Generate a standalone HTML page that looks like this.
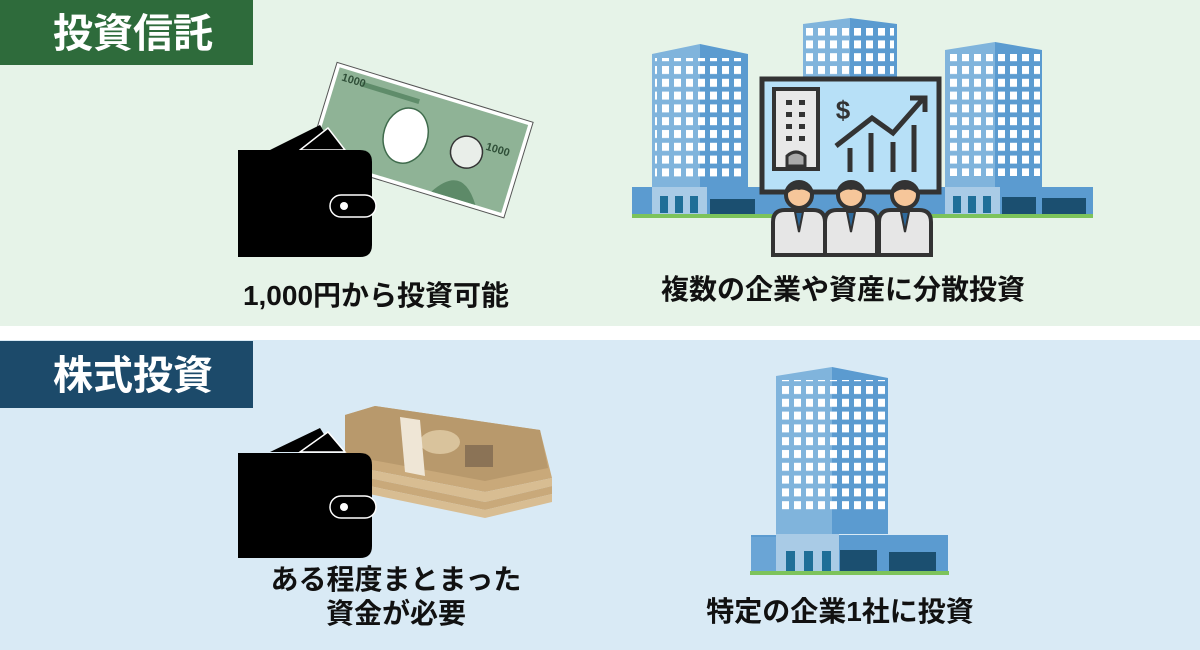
<!DOCTYPE html>
<html><head><meta charset="utf-8"><style>
html,body{margin:0;padding:0;width:1200px;height:650px;overflow:hidden;background:#fff}
svg{display:block}
text{font-family:"Liberation Sans","Noto Sans CJK JP",sans-serif;font-weight:bold}
</style></head><body>
<svg width="1200" height="650" viewBox="0 0 1200 650" xmlns="http://www.w3.org/2000/svg">
<defs>
<pattern id="win" x="0" y="0" width="12" height="12.8" patternUnits="userSpaceOnUse">
<rect x="2" y="2" width="7" height="8" fill="#fff"/>
</pattern>
</defs>
<rect x="0" y="0" width="1200" height="326" fill="#e6f3e8"/>
<rect x="0" y="340" width="1200" height="310" fill="#d9eaf5"/>
<rect x="0" y="0" width="253" height="65" fill="#2e6b3b"/>
<text x="133" y="47" font-size="40" fill="#fff" text-anchor="middle">投資信託</text>
<rect x="0" y="341" width="253" height="67" fill="#1c4a6a"/>
<text x="133" y="389" font-size="40" fill="#fff" text-anchor="middle">株式投資</text>

<!-- TOP: banknote -->
<g transform="rotate(17 420 140)">
<rect x="318" y="90" width="205" height="100" fill="#fff" stroke="#555" stroke-width="1"/>
<rect x="322" y="94" width="197" height="92" fill="#8fb396"/>
<rect x="348" y="101" width="60" height="5" fill="#5f8c6a"/>
<ellipse cx="405" cy="140" rx="22" ry="28" fill="#fff" stroke="#3f6b4c" stroke-width="1.5"/>
<circle cx="468" cy="138" r="16" fill="#e9eee9" stroke="#333" stroke-width="1.5"/>
<path d="M446 186 Q468 150 492 186Z" fill="#5d8a68"/>
<text x="327" y="106" font-size="11" fill="#2f4f38" font-weight="normal">1000</text>
<text x="485" y="130" font-size="11" fill="#2f4f38" font-weight="normal">1000</text>
</g>
<!-- wallet top -->
<path d="M270 150 L320 125 L335 150Z" fill="#000"/>
<path d="M300 150 L328 128 L345 150Z" fill="#000" stroke="#fff" stroke-width="1.5"/>
<path d="M238 150 H360 Q372 150 372 162 V245 Q372 257 360 257 H238Z" fill="#000"/>
<rect x="330" y="195" width="46" height="22" rx="11" fill="#000" stroke="#fff" stroke-width="1.5"/>
<circle cx="344" cy="206" r="4" fill="#fff"/>
<text x="376" y="305" font-size="28" fill="#111" text-anchor="middle">1,000円から投資可能</text>

<!-- TOP: buildings -->
<g>
<rect x="632" y="187" width="461" height="28" fill="#5b9bd0"/>
<rect x="652" y="187" width="55" height="28" fill="#a9cbe6"/>
<rect x="660" y="196" width="8" height="17" fill="#1f6f98"/><rect x="675" y="196" width="8" height="17" fill="#1f6f98"/><rect x="690" y="196" width="8" height="17" fill="#1f6f98"/>
<rect x="710" y="199" width="45" height="16" fill="#1b4f70"/>
<rect x="945" y="187" width="55" height="28" fill="#a9cbe6"/>
<rect x="953" y="196" width="8" height="17" fill="#1f6f98"/><rect x="968" y="196" width="8" height="17" fill="#1f6f98"/><rect x="983" y="196" width="8" height="17" fill="#1f6f98"/>
<rect x="1002" y="197" width="34" height="18" fill="#1b4f70"/><rect x="1042" y="198" width="44" height="17" fill="#1b4f70"/>
<rect x="632" y="214" width="461" height="4" fill="#7dc35b"/>
<polygon points="652,54 700,44 700,187 652,187" fill="#80b4dc"/>
<polygon points="700,44 748,54 748,187 700,187" fill="#5b9bd0"/>
<rect x="655" y="58" width="90" height="122" fill="url(#win)"/>
<polygon points="803,24 850,18 850,90 803,90" fill="#80b4dc"/>
<polygon points="850,18 897,24 897,90 850,90" fill="#5b9bd0"/>
<rect x="806" y="28" width="88" height="52" fill="url(#win)"/>
<polygon points="945,50 995,42 995,187 945,187" fill="#80b4dc"/>
<polygon points="995,42 1042,50 1042,187 995,187" fill="#5b9bd0"/>
<rect x="948" y="54" width="92" height="122" fill="url(#win)"/>
<rect x="762" y="79" width="177" height="113" fill="#b7e0f7" stroke="#333" stroke-width="5"/>
<rect x="774" y="89" width="44" height="80" fill="#e8e8e8" stroke="#333" stroke-width="4"/>
<g fill="#333"><rect x="786" y="100" width="6" height="5"/><rect x="799" y="100" width="6" height="5"/><rect x="786" y="112" width="6" height="5"/><rect x="799" y="112" width="6" height="5"/><rect x="786" y="124" width="6" height="5"/><rect x="799" y="124" width="6" height="5"/><rect x="786" y="136" width="6" height="5"/><rect x="799" y="136" width="6" height="5"/></g>
<path d="M787 166 V156 Q796 148 805 156 V166Z" fill="#aaa" stroke="#333" stroke-width="3"/>
<text x="843" y="119" font-size="26" fill="#333" text-anchor="middle">$</text>
<polyline points="836,146 872,118 893,133 922,100" fill="none" stroke="#333" stroke-width="5"/>
<polyline points="910,98 925,98 925,112" fill="none" stroke="#333" stroke-width="5"/>
<g stroke="#333" stroke-width="5"><line x1="850" y1="148" x2="850" y2="172"/><line x1="871" y1="133" x2="871" y2="172"/><line x1="893" y1="142" x2="893" y2="172"/><line x1="914" y1="125" x2="914" y2="172"/></g>
<g id="p">
<path d="M773 255 V222 Q773 210 785 210 H813 Q825 210 825 222 V255Z" fill="#e6e6e6" stroke="#333" stroke-width="4"/>
<path d="M795 212 L799 232 L803 212Z" fill="#2e6a9c" stroke="#333" stroke-width="2"/>
<circle cx="799" cy="195" r="13" fill="#f6c69a" stroke="#333" stroke-width="4"/>
<path d="M786 195 Q786 181 799 181 Q812 181 812 195 Q805 188 799 190 Q793 188 786 195Z" fill="#333"/>
</g>
<use href="#p" x="52"/><use href="#p" x="106"/>
</g>
<text x="843" y="299" font-size="28" fill="#111" text-anchor="middle">複数の企業や資産に分散投資</text>

<!-- BOTTOM: money stack -->
<g>
<polygon points="345,415 375,406 540,430 552,478 485,492 345,465" fill="#c9a97a"/>
<polygon points="345,465 485,492 552,478 552,486 485,502 345,473" fill="#d8bd92"/>
<polygon points="345,473 485,502 552,486 552,494 485,510 345,481" fill="#c9a97a"/>
<polygon points="345,481 485,510 552,494 552,502 485,518 345,489" fill="#d8bd92"/>
<polygon points="345,415 375,406 540,430 548,468 485,481 345,455" fill="#b8996c"/>
<ellipse cx="440" cy="442" rx="20" ry="12" fill="#d9c39c"/>
<polygon points="400,417 420,420 425,476 405,472" fill="#efe6d6"/>
<rect x="465" y="445" width="28" height="22" fill="#8b7356"/>
</g>
<path d="M270 452 L320 428 L335 452Z" fill="#000"/>
<path d="M300 452 L328 432 L345 452Z" fill="#000" stroke="#fff" stroke-width="1.5"/>
<path d="M238 453 H360 Q372 453 372 465 V546 Q372 558 360 558 H238Z" fill="#000"/>
<rect x="330" y="496" width="46" height="22" rx="11" fill="#000" stroke="#fff" stroke-width="1.5"/>
<circle cx="344" cy="507" r="4" fill="#fff"/>
<text x="396" y="589" font-size="28" fill="#111" text-anchor="middle">ある程度まとまった</text>
<text x="396" y="623" font-size="28" fill="#111" text-anchor="middle">資金が必要</text>

<!-- BOTTOM: single building -->
<g>
<rect x="751" y="535" width="197" height="37" fill="#5b9bd0"/>
<rect x="751" y="537" width="25" height="35" fill="#6aa5d6"/>
<rect x="776" y="534" width="63" height="38" fill="#a9cbe6"/>
<rect x="786" y="551" width="9" height="20" fill="#1f6f98"/><rect x="804" y="551" width="9" height="20" fill="#1f6f98"/><rect x="822" y="551" width="9" height="20" fill="#1f6f98"/>
<rect x="840" y="550" width="37" height="22" fill="#1b4f70"/>
<rect x="889" y="552" width="47" height="20" fill="#1b4f70"/>
<rect x="750" y="571" width="199" height="4" fill="#7dc35b"/>
<polygon points="776,376 832,367 832,534 776,534" fill="#80b4dc"/>
<polygon points="832,367 888,378 888,534 832,534" fill="#5b9bd0"/>
<rect x="779" y="380" width="106" height="132" fill="url(#win)"/>
</g>
<text x="840" y="621" font-size="28" fill="#111" text-anchor="middle">特定の企業1社に投資</text>
</svg>
</body></html>
